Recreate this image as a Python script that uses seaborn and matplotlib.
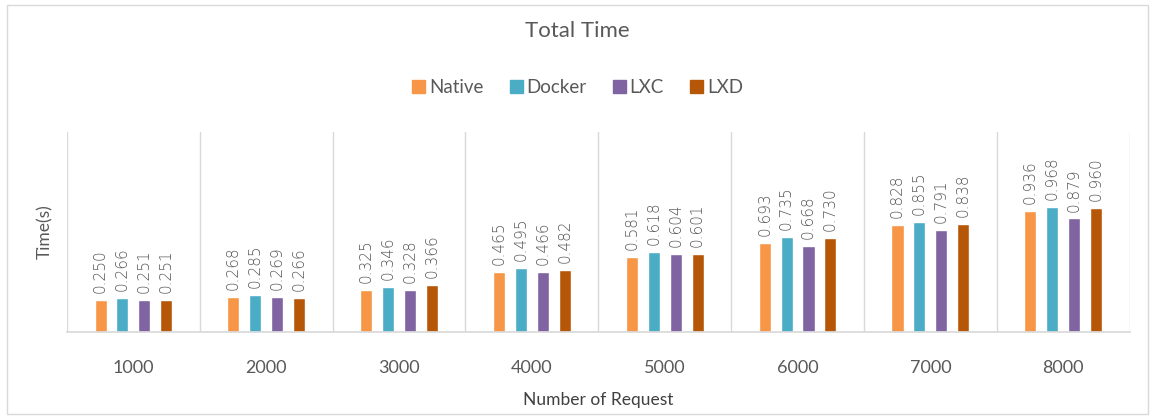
import pandas as pd
import numpy as np
import matplotlib.pyplot as plt
import seaborn as sns

# Datos
requests = ['1000', '2000', '3000', '4000', '5000', '6000', '7000', '8000']
native = [0.250, 0.268, 0.325, 0.465, 0.581, 0.693, 0.828, 0.936]
docker = [0.266, 0.285, 0.346, 0.495, 0.618, 0.735, 0.855, 0.968]
lxc = [0.251, 0.269, 0.328, 0.466, 0.604, 0.668, 0.791, 0.879]
lxd = [0.251, 0.266, 0.366, 0.482, 0.601, 0.730, 0.838, 0.960]
series = ['Native', 'Docker', 'LXC', 'LXD']
colores = ['#F79646', '#4BACC6', '#8064A2', '#B65708']

df = pd.DataFrame({
    'Request': requests * 4,
    'Sistema': [s for s in series for _ in requests],
    'Time': native + docker + lxc + lxd,
})

sns.set_theme(style="white")
plt.rcParams['font.family'] = ['Lato', 'DejaVu Sans']
gris = '#595959'

fig = plt.figure(figsize=(11.55, 4.16), dpi=100)
ax = fig.add_axes([0.058, 0.202, 0.920, 0.481])

sns.barplot(data=df, x='Request', y='Time', hue='Sistema', order=requests,
            hue_order=series, palette=colores, width=0.66, gap=0.45,
            saturation=1, ax=ax, legend=False)

for cont in ax.containers:
    ax.bar_label(cont, fmt='%.3f', rotation=90, padding=5, fontsize=11, color=gris,
                 family='DejaVu Sans', fontweight='light')

ax.set_ylim(0, 1.55)
ax.set_xlim(-0.5, len(requests) - 0.5)
ax.set_yticks([])
ax.set_xticks(np.arange(-0.5, len(requests)), minor=True)
ax.grid(which='minor', axis='x', color='#d9d9d9', linewidth=1)
ax.tick_params(axis='x', which='both', length=0, labelsize=13, labelcolor=gris, pad=20)
for s in ['top', 'right', 'left']:
    ax.spines[s].set_visible(False)
ax.spines['bottom'].set_color('#d9d9d9')

ax.set_xlabel('Number of Request', fontsize=12.5, color='#404040', labelpad=12)
ax.set_ylabel('Time(s)', fontsize=12.5, color=gris, labelpad=10)

fig.text(0.5, 0.925, 'Total Time', ha='center', va='center', fontsize=16, color=gris)

handles = [plt.Rectangle((0, 0), 1, 1, color=c) for c in colores]
fig.legend(handles, series, loc='center', bbox_to_anchor=(0.5, 0.79), ncol=4, frameon=False,
           fontsize=13.5, handlelength=0.7, handleheight=0.7, handletextpad=0.2, columnspacing=1.4,
           labelcolor=gris)

fig.patches.append(plt.Rectangle((0.006, 0.004), 0.988, 0.985, transform=fig.transFigure,
                                 fill=False, edgecolor='#d9d9d9', linewidth=1))

plt.savefig('out.png', dpi=100)
plt.close()
